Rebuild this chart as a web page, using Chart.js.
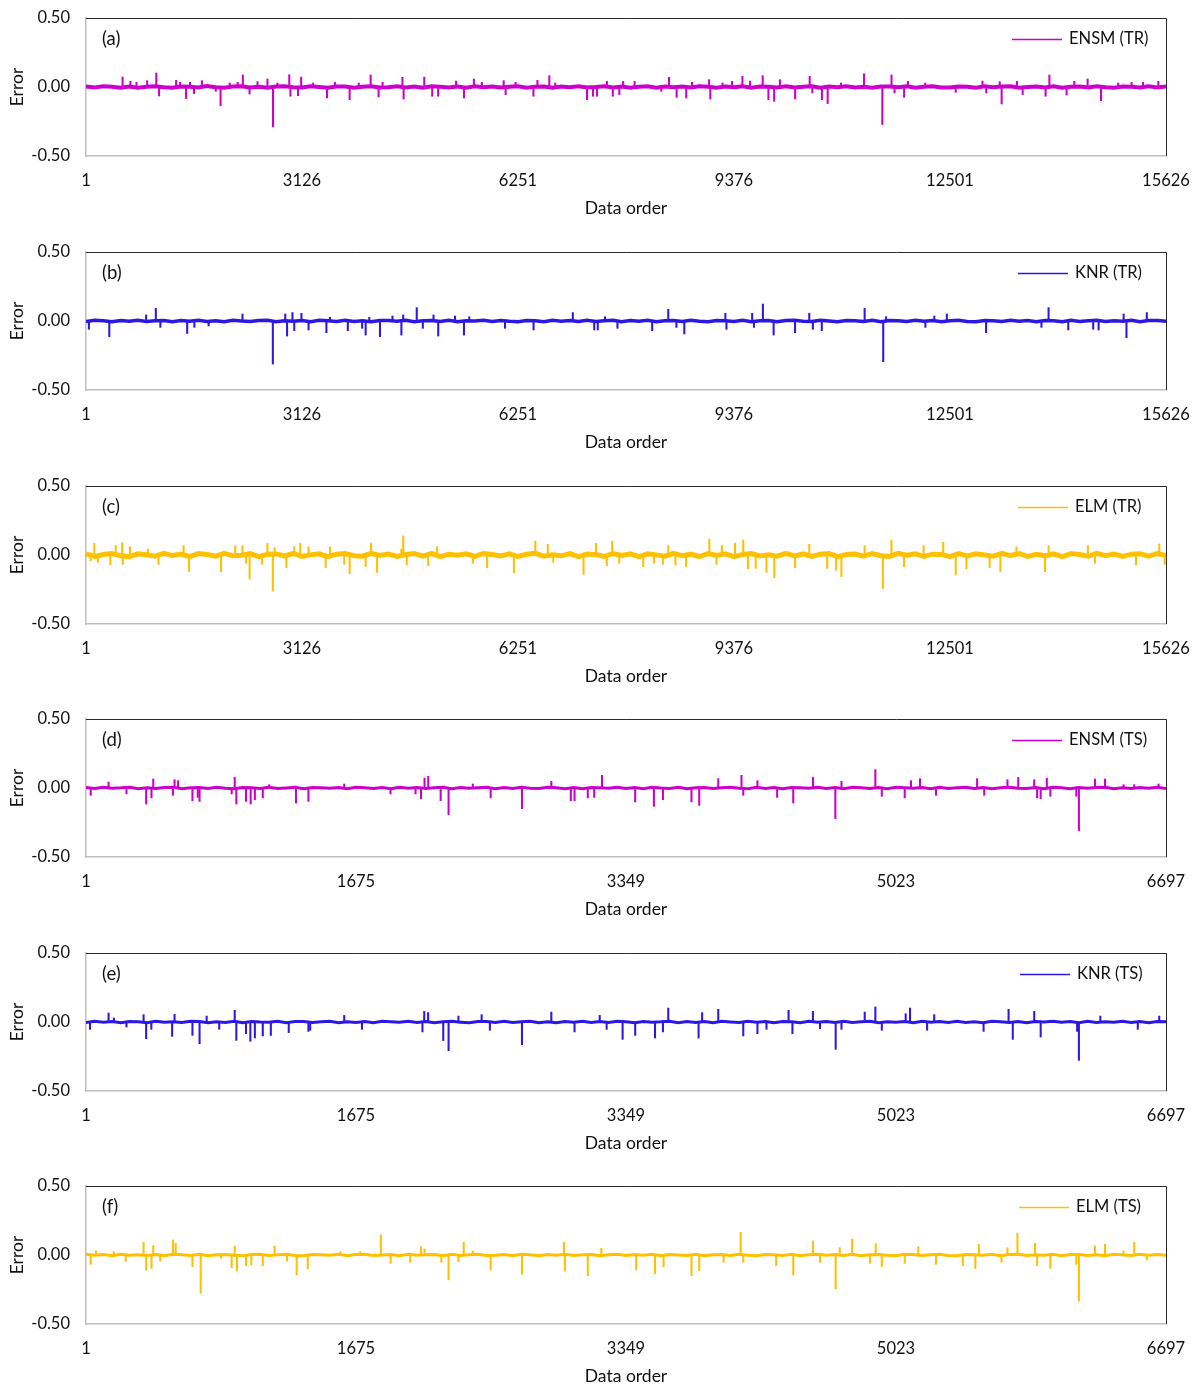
<!DOCTYPE html>
<html>
<head>
<meta charset="utf-8">
<title>Error by data order</title>
<script src="https://cdn.jsdelivr.net/npm/chart.js@4.4.1/dist/chart.umd.min.js"></script>
<style>
  html, body { margin: 0; padding: 0; background: #fff; }
  body { width: 1200px; height: 1387px; position: relative; overflow: hidden; }
  .panel { position: absolute; left: 0; width: 1200px; height: 234px; }
</style>
</head>
<body>
<div class="panel" style="top:0px"><canvas id="chartA" width="1200" height="234"></canvas></div>
<div class="panel" style="top:234px"><canvas id="chartB" width="1200" height="234"></canvas></div>
<div class="panel" style="top:468px"><canvas id="chartC" width="1200" height="234"></canvas></div>
<div class="panel" style="top:701px"><canvas id="chartD" width="1200" height="234"></canvas></div>
<div class="panel" style="top:935px"><canvas id="chartE" width="1200" height="234"></canvas></div>
<div class="panel" style="top:1168px"><canvas id="chartF" width="1200" height="234"></canvas></div>
<script>
// axis ticks
var trTicks = [1, 3126, 6251, 9376, 12501, 15626];
var tsTicks = [1, 1675, 3349, 5023, 6697];
var yTicks = [-0.5, 0, 0.5];

// baseline error band, one value every trStep / tsStep data orders
var trStep = 125;
var tsStep = 54;

var bandA = [0.004, -0.003, 0.006, 0.002, -0.005, 0.003, -0.006, 0.001, 0.005, -0.002,
  -0.006, 0.004, 0.002, -0.004, 0.007, -0.001, -0.005, 0.003, 0.006, -0.003,
  0.001, -0.006, 0.004, 0.005, -0.002, -0.004, 0.006, 0.000, -0.005, 0.004,
  0.003, -0.006, 0.002, 0.005, -0.003, -0.001, 0.006, -0.004, 0.003, -0.006,
  0.005, 0.001, -0.003, 0.004, -0.005, 0.006, -0.002, 0.003, -0.004, 0.002,
  0.006, -0.005, 0.001, 0.004, -0.006, 0.003, -0.002, 0.005, -0.004, 0.000,
  0.006, -0.003, 0.004, -0.005, 0.002, 0.005, -0.006, 0.003, -0.001, 0.004,
  -0.004, 0.006, 0.001, -0.005, 0.003, -0.002, 0.005, -0.006, 0.004, 0.002,
  -0.003, 0.006, -0.004, 0.001, 0.005, -0.005, 0.003, -0.002, 0.006, -0.004,
  0.002, -0.006, 0.004, 0.003, -0.001, 0.005, -0.005, 0.002, 0.006, -0.003,
  -0.004, 0.004, 0.001, -0.006, 0.005, -0.002, 0.003, 0.006, -0.005, 0.000,
  0.004, -0.003, 0.005, -0.006, 0.002, 0.003, -0.004, 0.006, -0.001, -0.005,
  0.004, 0.002, -0.003, 0.005, -0.004, 0.003];
var bandB = [-0.003, 0.005, 0.001, -0.005, 0.004, -0.002, 0.006, -0.004, 0.002, 0.003,
  -0.006, 0.004, -0.001, 0.005, -0.003, 0.002, -0.005, 0.006, 0.000, -0.004,
  0.003, 0.005, -0.006, 0.002, -0.002, 0.004, -0.005, 0.006, 0.001, -0.003,
  0.005, -0.004, 0.002, -0.006, 0.004, 0.003, -0.002, 0.006, -0.005, 0.001,
  0.004, -0.003, 0.005, -0.006, 0.002, 0.000, 0.006, -0.004, 0.003, -0.002,
  -0.005, 0.004, 0.002, -0.006, 0.005, -0.001, 0.003, -0.004, 0.006, -0.003,
  0.001, 0.005, -0.005, 0.004, -0.002, 0.006, -0.006, 0.002, 0.003, -0.004,
  0.005, -0.001, -0.005, 0.004, 0.002, -0.003, 0.006, -0.005, 0.001, 0.004,
  -0.006, 0.003, 0.005, -0.002, -0.004, 0.006, 0.000, -0.005, 0.004, 0.002,
  -0.003, 0.005, -0.006, 0.003, 0.001, -0.004, 0.006, -0.002, 0.004, -0.005,
  0.002, 0.005, -0.003, -0.006, 0.004, 0.001, -0.004, 0.006, -0.001, 0.003,
  -0.005, 0.004, 0.002, -0.006, 0.005, -0.003, 0.001, 0.006, -0.004, 0.002,
  -0.002, 0.005, -0.005, 0.003, 0.004, -0.001];
var bandC = [0.008, -0.010, 0.004, 0.011, -0.006, -0.012, 0.009, 0.002, -0.008, 0.012,
  -0.004, 0.007, -0.011, 0.010, 0.003, -0.009, 0.012, -0.006, -0.002, 0.010,
  -0.012, 0.005, 0.008, -0.007, 0.011, -0.010, 0.001, 0.009, -0.012, 0.006,
  0.010, -0.005, -0.009, 0.012, -0.003, 0.007, -0.011, 0.004, 0.010, -0.008,
  0.012, -0.012, 0.006, -0.002, 0.009, -0.010, 0.011, 0.003, -0.007, 0.008,
  -0.011, 0.005, 0.012, -0.009, 0.002, -0.006, 0.010, -0.012, 0.007, 0.004,
  -0.010, 0.011, -0.004, 0.008, -0.012, 0.009, 0.001, -0.008, 0.012, -0.005,
  0.006, -0.011, 0.010, -0.003, 0.009, -0.012, 0.004, 0.011, -0.007, 0.002,
  -0.009, 0.012, -0.006, 0.008, -0.010, 0.005, 0.010, -0.012, 0.003, 0.007,
  -0.008, 0.011, -0.005, -0.010, 0.012, -0.002, 0.009, -0.011, 0.006, 0.004,
  -0.012, 0.010, -0.007, 0.008, 0.001, -0.009, 0.012, -0.004, 0.011, -0.010,
  0.005, -0.006, 0.009, -0.012, 0.010, 0.003, -0.008, 0.012, -0.005, 0.007,
  -0.011, 0.006, 0.009, -0.009, 0.011, -0.004];
var bandD = [0.003, -0.004, 0.005, -0.002, 0.001, 0.006, -0.005, 0.002, -0.003, 0.004,
  0.006, -0.006, 0.001, 0.003, -0.004, 0.005, -0.001, -0.005, 0.004, 0.002,
  -0.003, 0.006, -0.004, 0.000, 0.005, -0.006, 0.003, 0.002, -0.002, 0.004,
  -0.005, 0.006, 0.001, -0.003, 0.003, -0.006, 0.005, -0.001, 0.004, -0.004,
  0.002, 0.006, -0.005, 0.003, -0.002, 0.001, 0.005, -0.006, 0.004, -0.003,
  0.006, -0.001, -0.004, 0.005, 0.002, -0.005, 0.003, -0.006, 0.004, 0.001,
  -0.002, 0.006, -0.004, 0.003, -0.005, 0.005, 0.000, -0.003, 0.006, -0.006,
  0.002, 0.004, -0.004, 0.001, 0.005, -0.002, -0.005, 0.006, -0.003, 0.003,
  -0.006, 0.004, 0.002, -0.001, 0.005, -0.004, 0.003, -0.005, 0.006, 0.001,
  -0.003, 0.004, -0.006, 0.005, 0.002, -0.002, 0.003, -0.005, 0.006, -0.004,
  0.001, 0.005, -0.003, 0.004, -0.006, 0.002, 0.006, -0.001, -0.004, 0.003,
  -0.005, 0.005, 0.001, -0.006, 0.004, -0.002, 0.003, 0.006, -0.005, 0.002,
  -0.003, 0.004, -0.001, 0.005, -0.004];
var bandE = [-0.004, 0.005, -0.001, 0.003, -0.006, 0.004, 0.002, -0.005, 0.006, -0.002,
  0.001, -0.004, 0.005, 0.003, -0.006, 0.002, -0.003, 0.006, -0.005, 0.004,
  0.000, -0.002, 0.005, -0.006, 0.003, 0.004, -0.004, 0.001, 0.006, -0.005,
  0.002, -0.003, 0.004, -0.006, 0.005, 0.001, -0.002, 0.006, -0.004, 0.003,
  -0.005, 0.002, 0.005, -0.001, -0.006, 0.004, 0.003, -0.004, 0.006, -0.003,
  0.001, 0.005, -0.005, 0.002, -0.006, 0.004, -0.001, 0.006, -0.003, 0.003,
  -0.004, 0.005, 0.002, -0.006, 0.004, -0.002, 0.001, 0.006, -0.005, 0.003,
  -0.003, 0.004, -0.006, 0.005, 0.000, -0.004, 0.006, -0.002, 0.003, -0.005,
  0.004, 0.002, -0.006, 0.005, -0.001, 0.003, -0.004, 0.006, -0.003, 0.001,
  0.005, -0.005, 0.002, -0.002, 0.004, -0.006, 0.006, -0.001, 0.003, -0.004,
  0.005, -0.003, 0.001, -0.005, 0.006, 0.002, -0.004, 0.004, -0.006, 0.003,
  0.000, 0.005, -0.002, 0.004, -0.005, 0.006, -0.003, 0.002, -0.001, 0.005,
  -0.004, 0.003, -0.006, 0.004, 0.002];
var bandF = [0.005, -0.002, 0.003, -0.005, 0.006, -0.001, 0.002, -0.004, 0.004, -0.006,
  0.005, 0.001, -0.003, 0.006, -0.005, 0.002, 0.004, -0.002, -0.006, 0.003,
  0.006, -0.004, 0.001, 0.005, -0.003, -0.005, 0.004, 0.002, -0.001, 0.006,
  -0.006, 0.003, 0.005, -0.004, 0.000, 0.004, -0.005, 0.006, -0.002, 0.001,
  0.003, -0.006, 0.005, -0.003, 0.002, 0.006, -0.004, -0.001, 0.004, -0.005,
  0.005, 0.002, -0.006, 0.003, -0.002, 0.006, -0.003, 0.001, 0.004, -0.006,
  0.002, 0.005, -0.004, 0.003, -0.001, 0.006, -0.005, 0.004, 0.000, -0.003,
  0.005, -0.006, 0.002, 0.003, -0.004, 0.006, -0.002, -0.005, 0.004, 0.001,
  -0.003, 0.006, -0.006, 0.002, 0.005, -0.001, 0.003, -0.004, 0.006, -0.005,
  0.001, 0.004, -0.002, -0.006, 0.005, 0.003, -0.004, 0.002, 0.006, -0.003,
  -0.005, 0.004, 0.001, -0.002, 0.006, -0.006, 0.003, 0.005, -0.004, 0.002,
  -0.001, 0.006, -0.005, 0.003, 0.004, -0.003, 0.001, -0.006, 0.005, 0.002,
  -0.004, 0.006, -0.002, 0.003, -0.001];

// isolated large errors: data order and error value
var spikePosA = [530, 644, 731, 886, 1018, 1058, 1305, 1362, 1449, 1506, 1563, 1678, 1879, 1948, 2080,
  2195, 2270, 2367, 2482, 2626, 2707, 2770, 2942, 2959, 3068, 3114, 3287, 3488, 3602, 3815, 3947,
  4119, 4234, 4292, 4579, 4596, 4895, 5010, 5096, 5355, 5469, 5613, 5728, 6044, 6072, 6216, 6474,
  6532, 6704, 6790, 7250, 7336, 7394, 7537, 7623, 7717, 7772, 7938, 8325, 8436, 8546, 8685, 8768,
  9016, 9033, 9210, 9348, 9498, 9608, 9791, 9874, 9957, 10040, 10261, 10471, 10510, 10648, 10731,
  10925, 11257, 11522, 11655, 11699, 11837, 11893, 12142, 12584, 12971, 13026, 13220, 13248, 13469,
  13552, 13884, 13939, 14188, 14299, 14492, 14686, 14935, 15128, 15294, 15515];
var spikeValA = [0.072, 0.041, 0.034, 0.046, 0.101, -0.065, 0.048, 0.034, -0.084, 0.034, -0.048, 0.046, -0.031, -0.135, 0.029,
  0.034, 0.087, -0.051, 0.039, 0.058, -0.289, 0.029, 0.089, -0.067, -0.063, 0.072, 0.029, -0.080, 0.034, -0.092, 0.029,
  0.087, -0.072, 0.034, 0.070, -0.087, 0.072, -0.067, -0.067, 0.043, -0.080, 0.058, 0.034, 0.046, -0.055, 0.034, -0.067,
  0.048, 0.082, 0.029, -0.092, -0.067, -0.067, 0.041, -0.067, -0.055, 0.041, 0.041, -0.031, 0.070, -0.075, -0.080, 0.034,
  0.053, -0.087, 0.029, 0.041, 0.077, 0.043, 0.082, -0.092, -0.104, 0.053, -0.087, 0.077, -0.043, -0.092, -0.120,
  0.029, 0.096, -0.272, 0.087, -0.043, -0.075, 0.041, 0.029, -0.039, 0.043, -0.043, 0.039, -0.123, 0.041,
  -0.055, -0.067, 0.087, -0.058, 0.041, 0.058, -0.099, 0.029, 0.034, 0.034, 0.041];

var spikePosB = [43, 338, 871, 1011, 1077, 1465, 1569, 1775, 2265, 2704, 2884, 2910, 2988, 3014, 3118,
  3221, 3479, 3531, 3789, 3996, 4047, 4100, 4254, 4435, 4564, 4590, 4786, 4874, 5029, 5097, 5340,
  5469, 5546, 6063, 6476, 7044, 7354, 7405, 7509, 7690, 8192, 8425, 8543, 8657, 9251, 9267, 9639,
  9665, 9794, 9949, 10259, 10465, 10517, 10646, 11266, 11535, 11576, 12145, 12274, 12455, 13023,
  13824, 13927, 14212, 14573, 14651, 15013, 15054, 15348];
var spikeValB = [-0.060, -0.114, 0.044, 0.092, -0.046, -0.090, -0.046, -0.036, 0.051, -0.312, 0.051, -0.109, 0.061, -0.070, 0.056,
  -0.065, -0.085, 0.027, -0.070, -0.053, -0.102, 0.027, -0.114, 0.036, -0.102, 0.044, 0.097, -0.053, 0.044, -0.109, 0.036,
  -0.102, 0.031, -0.053, -0.065, 0.061, -0.065, -0.065, 0.031, -0.053, -0.070, 0.085, -0.046, -0.094, 0.056, -0.060, 0.056,
  -0.046, 0.123, -0.102, -0.085, 0.056, -0.060, -0.070, 0.092, -0.295, 0.031, -0.046, 0.036, 0.051, -0.085,
  -0.046, 0.097, -0.065, -0.060, -0.065, 0.051, -0.121, 0.061];

var spikePosC = [69, 121, 173, 354, 431, 524, 534, 637, 896, 1051, 1413, 1490, 1955, 2161, 2265, 2317,
  2368, 2549, 2626, 2704, 2730, 2900, 3014, 3101, 3221, 3468, 3531, 3737, 3815, 4047, 4125, 4212,
  4564, 4590, 4642, 4952, 5080, 5598, 5804, 6192, 6502, 6683, 6761, 7199, 7380, 7536, 7614, 7716,
  8063, 8218, 8347, 8425, 8528, 8683, 9019, 9122, 9200, 9391, 9510, 9577, 9690, 9846, 9959, 10259,
  10465, 10724, 10853, 10930, 11266, 11530, 11654, 11835, 12119, 12403, 12584, 12739, 13075, 13230,
  13462, 13876, 13927, 14496, 14599, 15193, 15529, 15607];
var spikeValC = [-0.043, 0.085, -0.053, -0.072, 0.068, 0.089, -0.068, 0.060, 0.044, -0.068, 0.068, -0.121, -0.121, 0.068, 0.068, -0.060,
  -0.174, -0.068, 0.085, -0.261, 0.053, -0.092, 0.060, 0.085, 0.060, -0.092, 0.060, -0.068, -0.135, -0.085, 0.085, -0.126,
  0.044, 0.138, -0.072, -0.077, 0.060, -0.060, -0.092, -0.128, 0.101, 0.077, -0.053, -0.140, 0.085, -0.077, 0.101, -0.060,
  -0.085, -0.060, -0.068, 0.068, -0.072, -0.085, 0.116, -0.068, 0.068, 0.085, 0.109, -0.101, -0.097, -0.126, -0.164, -0.092,
  0.077, -0.097, -0.109, -0.157, 0.068, -0.242, 0.109, -0.085, 0.068, 0.092, -0.145, -0.101, -0.092, -0.121,
  0.060, -0.121, 0.068, 0.068, -0.060, -0.072, 0.080, -0.068];

var spikePosD = [30, 141, 252, 374, 407, 418, 540, 550, 572, 661, 694, 705, 904, 923, 933, 993, 1022,
  1048, 1097, 1137, 1303, 1380, 1602, 1889, 2044, 2078, 2100, 2123, 2200, 2249, 2399, 2510, 2704,
  2886, 3007, 3030, 3112, 3152, 3200, 3406, 3522, 3578, 3755, 3803, 3921, 4065, 4076, 4164, 4286,
  4386, 4508, 4647, 4685, 4895, 4935, 5077, 5116, 5172, 5271, 5526, 5570, 5714, 5781, 5880, 5898,
  5920, 5958, 5980, 6141, 6157, 6257, 6319, 6434, 6500, 6651];
var spikeValD = [-0.053, 0.043, -0.043, -0.116, -0.072, 0.065, -0.053, 0.060, 0.053, -0.092, -0.068, -0.097, -0.043, 0.077, -0.116, -0.097, -0.116,
  -0.085, -0.072, 0.024, -0.109, -0.097, 0.029, -0.043, -0.043, -0.077, 0.072, 0.085, -0.092, -0.193, 0.029, -0.072, -0.150,
  0.048, -0.092, -0.092, -0.072, -0.068, 0.092, -0.101, -0.133, -0.085, -0.101, -0.126, 0.068, 0.092, -0.053, 0.053, -0.068,
  -0.109, 0.077, -0.222, 0.048, 0.133, -0.060, -0.072, 0.053, 0.068, -0.053, 0.068, -0.053, 0.060, 0.077, 0.060, -0.072,
  -0.077, 0.072, -0.060, -0.060, -0.309, 0.065, 0.065, 0.024, 0.024, 0.029];

var spikePosE = [26, 141, 174, 252, 358, 374, 406, 535, 550, 661, 705, 749, 827, 923, 933, 993, 1020,
  1048, 1097, 1147, 1258, 1380, 1391, 1602, 1712, 2087, 2098, 2122, 2216, 2249, 2310, 2454, 2505,
  2704, 2886, 3030, 3186, 3229, 3328, 3406, 3529, 3578, 3611, 3799, 3821, 3921, 4076, 4164, 4220,
  4357, 4381, 4508, 4552, 4649, 4685, 4829, 4895, 4935, 5083, 5110, 5216, 5260, 5566, 5721, 5747,
  5880, 5920, 6146, 6157, 6290, 6522, 6655];
var spikeValE = [-0.053, 0.065, 0.029, -0.036, 0.053, -0.121, -0.053, -0.104, 0.056, -0.097, -0.157, 0.043, -0.053, 0.085, -0.133, -0.085, -0.140,
  -0.116, -0.101, -0.097, -0.077, -0.068, -0.060, 0.048, -0.053, -0.072, 0.077, 0.068, -0.135, -0.208, 0.043, 0.053, -0.060,
  -0.164, 0.072, -0.072, 0.048, -0.053, -0.126, -0.097, -0.116, -0.072, 0.101, -0.116, 0.068, 0.092, -0.101, -0.085, -0.053,
  0.085, -0.085, 0.077, -0.048, -0.198, -0.053, 0.072, 0.109, -0.060, 0.060, 0.101, -0.060, 0.053, -0.068, 0.092, -0.126,
  0.077, -0.109, -0.068, -0.278, 0.043, -0.053, 0.043];

var spikePosF = [30, 63, 174, 247, 358, 374, 407, 418, 461, 540, 557, 661, 712, 838, 904, 923, 937,
  993, 1026, 1097, 1170, 1247, 1307, 1376, 1579, 1701, 1829, 1890, 2011, 2078, 2100, 2204, 2249,
  2310, 2343, 2399, 2510, 2704, 2964, 2970, 3112, 3196, 3412, 3529, 3582, 3755, 3803, 3954, 4060,
  4076, 4280, 4386, 4508, 4552, 4649, 4674, 4751, 4862, 4897, 4935, 5077, 5161, 5271, 5437, 5515,
  5537, 5677, 5714, 5776, 5885, 5898, 5980, 6141, 6157, 6257, 6319, 6434, 6500, 6578];
var spikeValF = [-0.068, 0.029, 0.024, -0.048, 0.092, -0.109, -0.097, 0.068, -0.043, 0.109, 0.085, -0.085, -0.278, -0.024, -0.092, 0.065, -0.116,
  -0.077, -0.072, -0.077, 0.065, -0.043, -0.145, -0.101, 0.024, 0.024, 0.145, -0.060, -0.053, 0.060, 0.043, -0.053, -0.181,
  -0.048, 0.092, 0.029, -0.109, -0.140, 0.092, -0.116, -0.150, 0.048, -0.109, -0.135, -0.085, -0.150, -0.114, -0.053, 0.164,
  -0.053, -0.077, -0.145, 0.101, -0.053, -0.246, 0.053, 0.116, -0.060, 0.082, -0.085, -0.060, 0.060, -0.068, -0.077, -0.097,
  0.077, -0.053, 0.053, 0.157, 0.085, -0.077, -0.097, -0.068, -0.333, 0.065, 0.077, 0.029, 0.092, -0.036];

var MAGENTA = '#cc00cc';
var BLUE = '#2d17e3';
var GOLD = '#ffc000';
var FONT = 'Lato, "Open Sans", sans-serif';
var TEXT = '#111111';

var panels = [
  { id: 'chartA', tag: '(a)', name: 'ENSM (TR)', color: MAGENTA, band: bandA, width: 4, step: trStep, pos: spikePosA, val: spikeValA, ticks: trTicks, keyX: 1069 },
  { id: 'chartB', tag: '(b)', name: 'KNR (TR)', color: BLUE, band: bandB, width: 3.5, step: trStep, pos: spikePosB, val: spikeValB, ticks: trTicks, keyX: 1075 },
  { id: 'chartC', tag: '(c)', name: 'ELM (TR)', color: GOLD, band: bandC, width: 5, step: trStep, pos: spikePosC, val: spikeValC, ticks: trTicks, keyX: 1075 },
  { id: 'chartD', tag: '(d)', name: 'ENSM (TS)', color: MAGENTA, band: bandD, width: 3, step: tsStep, pos: spikePosD, val: spikeValD, ticks: tsTicks, keyX: 1069 },
  { id: 'chartE', tag: '(e)', name: 'KNR (TS)', color: BLUE, band: bandE, width: 3, step: tsStep, pos: spikePosE, val: spikeValE, ticks: tsTicks, keyX: 1077 },
  { id: 'chartF', tag: '(f)', name: 'ELM (TS)', color: GOLD, band: bandF, width: 3, step: tsStep, pos: spikePosF, val: spikeValF, ticks: tsTicks, keyX: 1076 }
];

// plot frame (top/right), panel letter and the in-plot legend
var panelDecor = {
  id: 'panelDecor',
  afterDraw: function (chart, args, opts) {
    var a = chart.chartArea, ctx = chart.ctx;
    ctx.save();
    ctx.strokeStyle = '#2b2b2b';
    ctx.lineWidth = 1;
    ctx.beginPath();
    ctx.moveTo(a.left, Math.floor(a.top) + 0.5);
    ctx.lineTo(Math.floor(a.right) + 0.5, Math.floor(a.top) + 0.5);
    ctx.lineTo(Math.floor(a.right) + 0.5, a.bottom);
    ctx.stroke();

    ctx.fillStyle = TEXT;
    ctx.textBaseline = 'middle';
    ctx.textAlign = 'left';
    ctx.font = '18.5px ' + FONT;
    ctx.fillText(opts.tag, a.left + 16, a.top + 21);

    ctx.font = '16.5px ' + FONT;
    ctx.strokeStyle = opts.color;
    ctx.lineWidth = 1.5;
    ctx.beginPath();
    ctx.moveTo(opts.keyX - 57, a.top + 21.5);
    ctx.lineTo(opts.keyX - 7, a.top + 21.5);
    ctx.stroke();
    ctx.fillText(opts.name, opts.keyX, a.top + 21);
    ctx.restore();
  }
};

function makeChart(p) {
  var bandPts = p.band.map(function (v, i) { return { x: 1 + i * p.step, y: v }; });
  var spikePts = p.pos.map(function (x, i) { return { x: x, y: p.val[i] }; });
  var tickFont = { family: FONT, size: 16.5 };
  var titleFont = { family: FONT, size: 17.5 };

  return new Chart(document.getElementById(p.id), {
    type: 'bar',
    data: {
      datasets: [
        { type: 'line', data: bandPts, borderColor: p.color, borderWidth: p.width, pointRadius: 0, tension: 0, order: 2 },
        { type: 'bar', data: spikePts, backgroundColor: p.color, barThickness: 1.4, grouped: false, order: 1 }
      ]
    },
    options: {
      responsive: false,
      animation: false,
      events: [],
      layout: { padding: { left: 0, right: 34, top: 18, bottom: 0 } },
      plugins: {
        legend: { display: false },
        tooltip: { enabled: false },
        panelDecor: { tag: p.tag, name: p.name, color: p.color, keyX: p.keyX }
      },
      scales: {
        x: {
          type: 'linear',
          min: p.ticks[0],
          max: p.ticks[p.ticks.length - 1],
          offset: false,
          grid: { display: false, drawTicks: false },
          border: { color: '#bfbfbf', width: 1.5 },
          afterBuildTicks: function (s) { s.ticks = p.ticks.map(function (v) { return { value: v }; }); },
          afterFit: function (s) { s.height = 78; s.paddingLeft = 0; s.paddingRight = 0; },
          ticks: {
            autoSkip: false, maxRotation: 0, padding: 15, color: TEXT, font: tickFont,
            callback: function (v) { return String(v); }
          },
          title: { display: true, text: 'Data order', color: TEXT, font: titleFont, padding: { top: 0, bottom: 15 } }
        },
        y: {
          min: -0.5,
          max: 0.5,
          grid: { display: false, drawTicks: false },
          border: { color: '#bfbfbf', width: 1.5 },
          afterBuildTicks: function (s) { s.ticks = yTicks.map(function (v) { return { value: v }; }); },
          afterFit: function (s) { s.width = 86; s.paddingTop = 0; s.paddingBottom = 0; },
          ticks: {
            padding: 16, color: TEXT, font: tickFont,
            callback: function (v) { return Number(v).toFixed(2); }
          },
          title: { display: true, text: 'Error', color: TEXT, font: titleFont, padding: { top: 7, bottom: 0 } }
        }
      }
    },
    plugins: [panelDecor]
  });
}

panels.forEach(makeChart);
</script>
</body>
</html>
